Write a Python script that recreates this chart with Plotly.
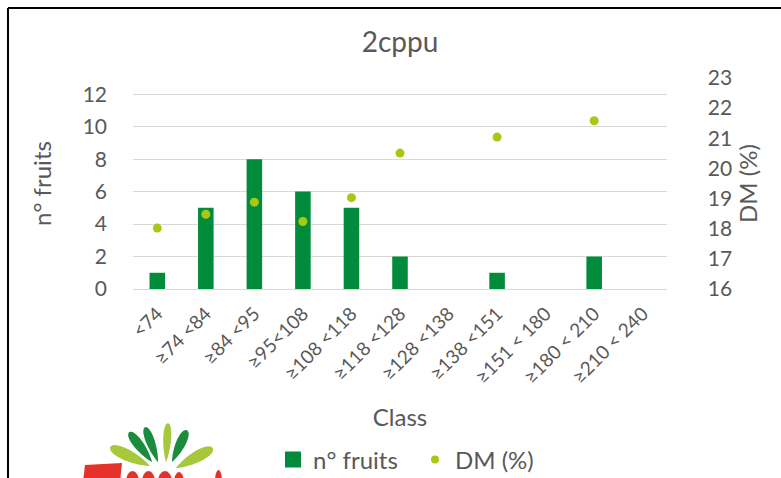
import numpy as np
import plotly.graph_objects as go

classes = ["<74", "≥74 <84", "≥84 <95", "≥95<108", "≥108 <118", "≥118 <128",
           "≥128 <138", "≥138 <151", "≥151 < 180", "≥180 < 210", "≥210 < 240"]
n_fruits = [1, 5, 8, 6, 5, 2, 0, 1, 0, 2, 0]
dm_pct = [18.02, 18.48, 18.88, 18.24, 19.03, 20.51, None, 21.04, None, 21.58, None]

W, H = 781, 478
L, R, T, B = 133, 667, 78, 289  # plot area in pixels

def px(x):
    return (x - L) / (R - L)

def py(y):
    return (B - y) / (B - T)

FONT = "Lato, Carlito, Calibri, sans-serif"
GREY = "#595959"
BAR_GREEN = "#008C3A"
DOT_GREEN = "#A8C814"

fig = go.Figure()
fig.add_trace(go.Bar(x=classes, y=n_fruits, name="n° fruits", showlegend=False,
                     marker=dict(color=BAR_GREEN, line=dict(width=0))))
fig.add_trace(go.Scatter(x=classes, y=dm_pct, name="DM (%)", mode="markers",
                         yaxis="y2", showlegend=False, cliponaxis=False,
                         marker=dict(color=DOT_GREEN, size=9)))
# legend entries
fig.add_trace(go.Scatter(x=[None], y=[None], name="n° fruits", mode="markers",
                         legend="legend",
                         marker=dict(color=BAR_GREEN, size=16, symbol="square")))
fig.add_trace(go.Scatter(x=[None], y=[None], name="DM (%)", mode="markers", yaxis="y2",
                         legend="legend2",
                         marker=dict(color=DOT_GREEN, size=8)))

shapes = []
# frame lines
shapes.append(dict(type="line", xref="paper", yref="paper",
                   x0=px(8), x1=px(790), y0=py(8), y1=py(8),
                   line=dict(color="black", width=2)))
shapes.append(dict(type="line", xref="paper", yref="paper",
                   x0=px(8), x1=px(8), y0=py(8), y1=py(490),
                   line=dict(color="black", width=2)))

# logo leaves (decorative): outer tip, inner tip, max width, colour
LIGHT, DARK = "#A6C83A", "#1A8C3C"
leaves = [((110, 447), (150, 466), 13, LIGHT),
          ((129, 432), (152, 462), 11, DARK),
          ((145, 427), (158, 462), 10, DARK),
          ((168, 423), (166, 462), 9, LIGHT),
          ((187, 430), (172, 462), 11, DARK),
          ((213, 448), (176, 468), 13, LIGHT)]
for (ox, oy), (ix, iy), wmax, col in leaves:
    dx, dy = ox - ix, oy - iy
    ln = np.hypot(dx, dy)
    ux, uy = dx / ln, dy / ln
    vx, vy = -uy, ux
    ts = np.linspace(0, 1, 28)
    left, right = [], []
    for t in ts:
        w = wmax * 0.5 * (t ** 0.9) * np.sqrt(max(0.0, 1 - t)) * 2.2
        bx, by = ix + ux * ln * t, iy + uy * ln * t
        left.append((bx + vx * w, by + vy * w))
        right.append((bx - vx * w, by - vy * w))
    pts = left + right[::-1]
    path = "M " + " L ".join(f"{px(x):.4f},{py(y):.4f}" for x, y in pts) + " Z"
    shapes.append(dict(type="path", xref="paper", yref="paper", path=path,
                       fillcolor=col, line=dict(width=0)))

# logo red wordmark tops (decorative, cut at page edge)
RED = "#E4322B"
zpath = [(85, 465), (122, 463), (120, 482), (83, 482)]
shapes.append(dict(type="path", xref="paper", yref="paper",
                   path="M " + " L ".join(f"{px(x):.4f},{py(y):.4f}" for x, y in zpath) + " Z",
                   fillcolor=RED, line=dict(width=0)))
for x0, x1, y0 in [(126, 139, 471), (142, 155, 471), (158, 172, 471), (174, 184, 472), (215, 222, 470)]:
    shapes.append(dict(type="circle", xref="paper", yref="paper",
                       x0=px(x0), x1=px(x1), y0=py(y0), y1=py(y0 + 22),
                       fillcolor=RED, line=dict(width=0)))

legend_common = dict(orientation="h", yanchor="middle", xanchor="left",
                     font=dict(family=FONT, size=24, color=GREY), bgcolor="rgba(0,0,0,0)",
                     itemsizing="trace", itemwidth=30, borderwidth=0)

fig.update_layout(
    width=W, height=H,
    margin=dict(l=L, r=W - R, t=T, b=H - B, pad=0, autoexpand=False),
    paper_bgcolor="white", plot_bgcolor="white",
    font=dict(family=FONT, color=GREY, size=20),
    title=dict(text="2cppu", x=400 / W, xref="container", xanchor="center",
               y=1 - 42 / H, yref="container", yanchor="middle",
               font=dict(family=FONT, size=28, color=GREY)),
    bargap=0.68,
    showlegend=True,
    legend=dict(x=px(273), y=py(460), **legend_common),
    legend2=dict(x=px(415), y=py(460), **legend_common),
    xaxis=dict(type="category", tickangle=-45, showline=False, ticks="",
               automargin=False, range=[-0.5, len(classes) - 0.5], autorange=False,
               tickfont=dict(family=FONT, size=19, color=GREY),
               ticklabelstandoff=9,
               title=dict(text="Class", font=dict(family=FONT, size=24, color=GREY), standoff=22)),
    yaxis=dict(range=[0, 13], dtick=2, tick0=0, showgrid=True, gridcolor="#D9D9D9", gridwidth=1,
               zeroline=True, zerolinecolor="#D9D9D9", zerolinewidth=1,
               showline=False, ticks="", ticklabelstandoff=25, automargin=False,
               tickfont=dict(family=FONT, size=21, color=GREY),
               title=dict(text="n° fruits", font=dict(family=FONT, size=24, color=GREY), standoff=24)),
    yaxis2=dict(range=[16, 23], dtick=1, tick0=16, overlaying="y", side="right",
                showgrid=False, zeroline=False, showline=False, ticks="",
                ticklabelstandoff=29, automargin=False, tickprefix="\u00a0\u00a0",
                tickfont=dict(family=FONT, size=21, color=GREY),
                title=dict(text="DM (%)", font=dict(family=FONT, size=24, color=GREY), standoff=9)),
    shapes=shapes,
)

fig.write_html("out.html", config={"displayModeBar": False},
               post_script="document.body.style.margin='0';document.body.style.overflow='hidden';")
